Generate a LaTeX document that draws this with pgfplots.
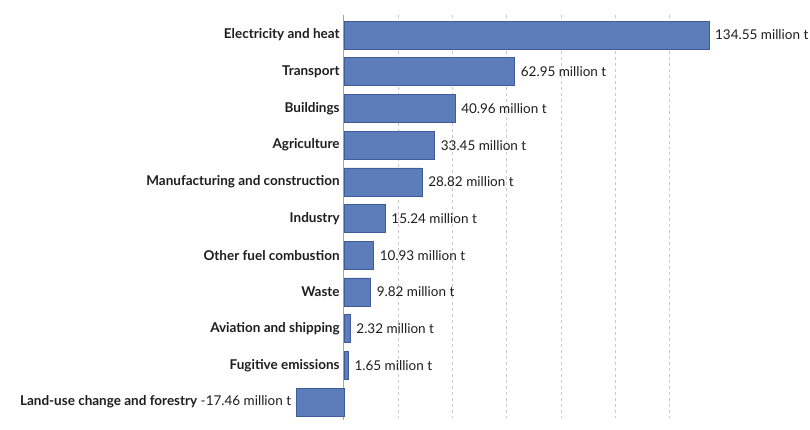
\documentclass[border=0pt]{standalone}
\usepackage{fontspec}
\setmainfont{Lato}
\usepackage{pgfplots}
\pgfplotsset{compat=1.18}
\definecolor{barfill}{RGB}{92,125,186}
\definecolor{bardraw}{RGB}{62,92,156}
\definecolor{gridc}{RGB}{200,200,200}
\definecolor{txt}{RGB}{30,30,30}
\begin{document}
\begin{tikzpicture}
\begin{axis}[
  scale only axis,
  width=417.8bp, height=405bp,
  xmin=-18, xmax=136,
  ymin=-0.545, ymax=10.49,
  y dir=reverse,
  axis y line=middle,
  axis x line*=bottom,
  x axis line style={draw=none},
  y axis line style={draw=gray!70, line width=0.8pt, -},
  xtick={20,40,60,80,100,120},
  xticklabels={},
  xtick style={draw=none},
  xmajorgrids,
  major x grid style={gridc, dashed, line width=0.6pt},
  ytick={0,...,10},
  yticklabels={Electricity and heat,Transport,Buildings,Agriculture,Manufacturing and construction,Industry,Other fuel combustion,Waste,Aviation and shipping,Fugitive emissions,{}},
  ytick style={draw=none},
  major tick length=0pt,
  yticklabel style={font=\fontsize{13.5bp}{15bp}\selectfont\bfseries, text=txt, anchor=east, inner sep=0pt, xshift=-4bp},
  xbar,
  bar width=28bp,
  every node near coord/.append style={font=\fontsize{13.5bp}{15bp}\selectfont, text=txt},
  clip=false,
]
\addplot[fill=barfill, draw=bardraw, line width=0.6pt, bar shift=0pt,
  point meta=explicit symbolic,
  nodes near coords, nodes near coords align={horizontal},
  every node near coord/.append style={anchor=west, inner sep=0pt, xshift=6bp}]
  coordinates {
  (134.55,0) [134.55 million t]
  (62.95,1) [62.95 million t]
  (40.96,2) [40.96 million t]
  (33.45,3) [33.45 million t]
  (28.82,4) [28.82 million t]
  (15.24,5) [15.24 million t]
  (10.93,6) [10.93 million t]
  (9.82,7) [9.82 million t]
  (2.32,8) [2.32 million t]
  (1.65,9) [1.65 million t]
  };
\addplot[fill=barfill, draw=bardraw, line width=0.6pt, bar shift=0pt,
  point meta=explicit symbolic,
  nodes near coords, nodes near coords align={horizontal},
  every node near coord/.append style={anchor=east, inner sep=0pt, xshift=-5bp}]
  coordinates {
  (-17.46,10) [\textbf{Land-use change and forestry} -17.46 million t]
  };
\end{axis}
\pgfresetboundingbox
\path (current axis.south west) ++(-295bp,-10bp) rectangle ++(810bp,430bp);
\end{tikzpicture}
\end{document}
